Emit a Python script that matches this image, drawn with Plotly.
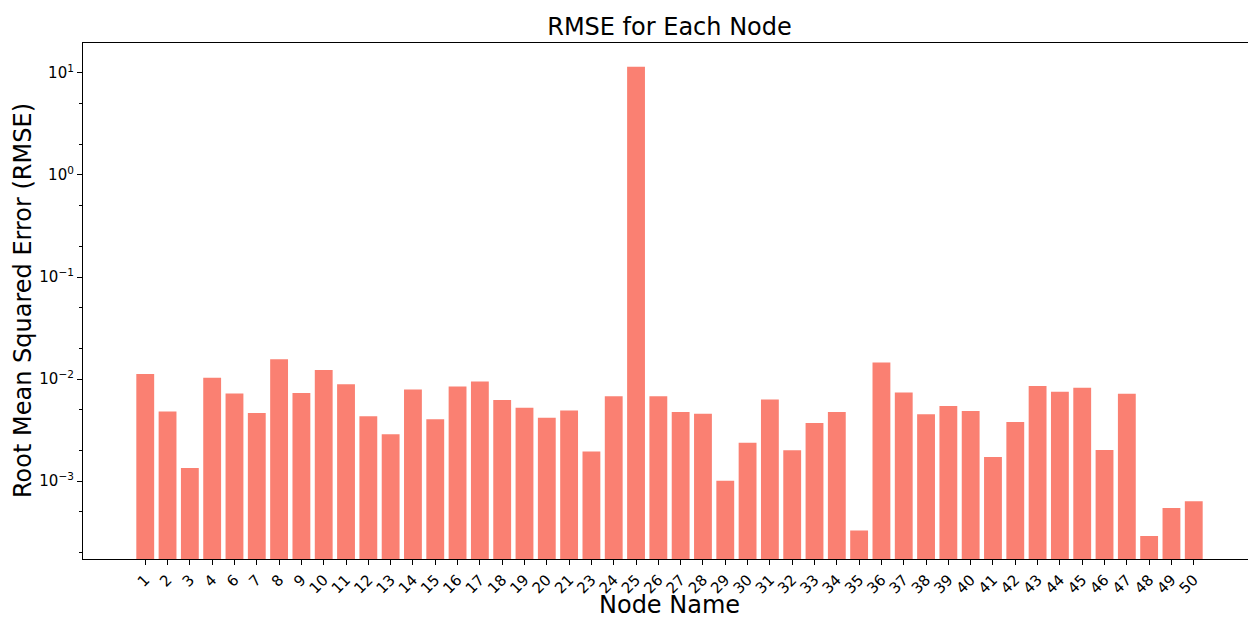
import plotly.graph_objects as go

nodes = ["1", "2", "3", "4", "6", "7", "8", "9", "10", "11", "12", "13", "14", "15", "16",
         "17", "18", "19", "20", "21", "23", "24", "25", "26", "27", "28", "29", "30", "31",
         "32", "33", "34", "35", "36", "37", "38", "39", "40", "41", "42", "43", "44", "45",
         "46", "47", "48", "49", "50"]
rmse = [0.0112, 0.00483, 0.00135, 0.0103, 0.00725, 0.00465, 0.0157, 0.0073, 0.0123, 0.00893,
        0.00432, 0.00288, 0.00793, 0.00404, 0.00848, 0.0095, 0.00624, 0.00525, 0.00419, 0.00494,
        0.00195, 0.00678, 11.5, 0.0068, 0.00476, 0.00458, 0.00101, 0.00238, 0.00632, 0.00201,
        0.00371, 0.00476, 0.000329, 0.01455, 0.0074, 0.00452, 0.00545, 0.00487, 0.00173, 0.0038,
        0.00855, 0.00752, 0.00822, 0.00202, 0.00719, 0.00029, 0.000548, 0.000637]

ytick_vals = [1e-3, 1e-2, 1e-1, 1e0, 1e1]
ytick_text = ["10<sup>−3</sup>", "10<sup>−2</sup>", "10<sup>−1</sup>", "10<sup>0</sup>", "10<sup>1</sup>"]

fig = go.Figure(go.Bar(
    x=list(range(len(nodes))), y=rmse,
    marker=dict(color="#FA8072", line=dict(width=0)),
    width=0.8,
))

font = "DejaVu Sans, Liberation Sans, sans-serif"
W, H = 1248, 611
fig.update_layout(
    width=W, height=H,
    margin=dict(l=75, r=0, t=35, b=60, autoexpand=False),
    paper_bgcolor="white", plot_bgcolor="white",
    font=dict(family=font, color="black"),
    title=dict(text="RMSE for Each Node", xref="paper", x=0.5, xanchor="center",
               yref="container", y=1 - 19 / H, yanchor="middle",
               font=dict(size=24, family=font, color="black")),
    showlegend=False,
    annotations=[
        dict(text="Node Name", xref="paper", yref="paper", x=0.5, y=0,
             xanchor="center", yanchor="middle", yshift=-46, showarrow=False,
             font=dict(size=24, family=font, color="black")),
        dict(text="Root Mean Squared Error (RMSE)", xref="paper", yref="paper", x=0, y=0.5,
             xanchor="center", yanchor="middle", xshift=-60, textangle=-90, showarrow=False,
             font=dict(size=24, family=font, color="black")),
    ],
)
fig.update_xaxes(
    range=[-2.79, 49.79], automargin=False,
    tickmode="array", tickvals=list(range(len(nodes))), ticktext=nodes,
    tickangle=-45, tickfont=dict(size=15),
    ticks="outside", ticklen=5, tickcolor="black",
    showline=True, linecolor="black", linewidth=1.2, mirror=True,
    showgrid=False, zeroline=False,
)
fig.update_yaxes(
    type="log", range=[-3.762, 1.293], automargin=False,
    tickmode="array", tickvals=ytick_vals, ticktext=ytick_text,
    tickfont=dict(size=15),
    ticks="outside", ticklen=5, tickcolor="black",
    minor=dict(ticks="outside", ticklen=3, tickcolor="black", showgrid=False),
    showline=True, linecolor="black", linewidth=1.2, mirror=True,
    showgrid=False, zeroline=False,
)

fig.write_html("out.html")
